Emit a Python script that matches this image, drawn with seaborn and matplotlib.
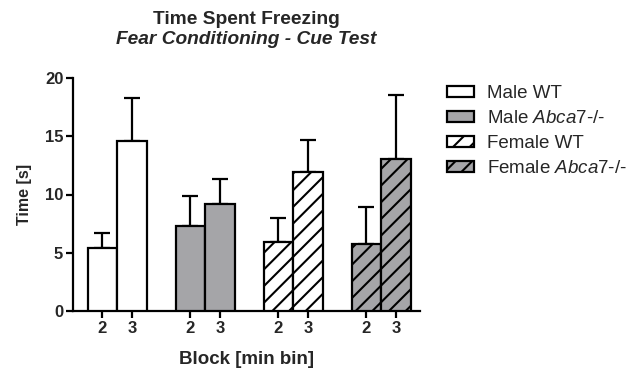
import matplotlib
matplotlib.use("Agg")
import matplotlib.pyplot as plt
import seaborn as sns
import pandas as pd
import numpy as np
from matplotlib.patches import Patch

# ---- data ----
groups = ["Male WT", "Male Abca7-/-", "Female WT", "Female Abca7-/-"]
blocks = ["2", "3"]
means_block2 = [5.4, 7.3, 5.9, 5.75]
means_block3 = [14.55, 9.2, 11.95, 13.05]
sem_block2 = [1.3, 2.6, 2.1, 3.15]
sem_block3 = [3.7, 2.15, 2.7, 5.5]
legend_labels = ["Male WT", "Male $\\mathit{Abca7}$-/-", "Female WT", "Female $\\mathit{Abca7}$-/-"]
fills = ["white", "#a5a5a8", "white", "#a5a5a8"]
hatches = ["", "", "//", "//"]

sns.set_theme(style="ticks")
plt.rcParams["font.family"] = ["Liberation Sans", "DejaVu Sans"]
plt.rcParams["mathtext.fontset"] = "custom"
plt.rcParams["mathtext.rm"] = "Liberation Sans"
plt.rcParams["mathtext.it"] = "Liberation Sans:italic"
plt.rcParams["hatch.linewidth"] = 1.5
plt.rcParams["hatch.color"] = "black"

df = pd.DataFrame({
    "group": groups * 2,
    "block": [blocks[0]] * 4 + [blocks[1]] * 4,
    "time": means_block2 + means_block3,
    "err": sem_block2 + sem_block3,
})

fig = plt.figure(figsize=(6.41, 3.72), dpi=100)
ax = fig.add_axes([73/641, 1-311/372, (420-73)/641, (311-78)/372])

sns.barplot(data=df, x="group", y="time", hue="block", order=groups,
            hue_order=blocks, width=0.67, ax=ax, errorbar=None,
            legend=False, palette=["white", "white"], edgecolor="black",
            linewidth=1.6)

# style bars and collect centers
centers, tops, errs, tick_lbls = [], [], [], []
bars = [p for p in ax.patches]
for bi, b in enumerate(blocks):
    for gi, g in enumerate(groups):
        p = bars[bi * 4 + gi]
        p.set_facecolor(fills[gi])
        p.set_hatch(hatches[gi])
        p.set_edgecolor("black")
        p.set_linewidth(1.6)
        p.set_zorder(3)
        cx = p.get_x() + p.get_width() / 2
        row = df[(df.group == g) & (df.block == b)].iloc[0]
        centers.append(cx)
        tops.append(row.time)
        errs.append(row.err)
        tick_lbls.append(b)

centers = np.array(centers)
tops = np.array(tops)
errs = np.array(errs)
ax.errorbar(centers, tops, yerr=[np.zeros_like(errs), errs], fmt="none",
            ecolor="black", elinewidth=1.6, capsize=5.5, capthick=1.6, zorder=2)

order = np.argsort(centers)
ax.set_xticks(centers[order])
ax.set_xticklabels([tick_lbls[i] for i in order], fontsize=12, fontweight="bold")
ax.set_xlim(-0.5, 3.44)
ax.set_ylim(0, 20)
ax.set_yticks([0, 5, 10, 15, 20])
ax.set_yticklabels(["0", "5", "10", "15", "20"], fontsize=12, fontweight="bold")
ax.tick_params(axis="both", width=1.6, length=5, color="black", pad=2)
ax.set_xlabel("")
ax.set_ylabel("")
for s in ["top", "right"]:
    ax.spines[s].set_visible(False)
for s in ["left", "bottom"]:
    ax.spines[s].set_linewidth(1.6)
    ax.spines[s].set_color("black")

fig.text(246/641, 1-19/372, "Time Spent Freezing", ha="center", va="center",
         fontsize=13.8, fontweight="bold")
fig.text(246/641, 1-40/372, "Fear Conditioning - Cue Test", ha="center", va="center",
         fontsize=13.8, fontweight="bold", fontstyle="italic")
fig.text(246/641, 1-360/372, "Block [min bin]", ha="center", va="center",
         fontsize=13.5, fontweight="bold")
fig.text(25/641, 1-194/372, "Time [s]", ha="center", va="center", rotation=90,
         fontsize=11.5, fontweight="bold")

handles = [Patch(facecolor=fills[i], edgecolor="black", hatch=hatches[i], linewidth=1.6)
           for i in range(4)]
fig.legend(handles, legend_labels, loc="upper left", bbox_to_anchor=(447/641, 1-85/372),
           frameon=False, fontsize=13.5, handlelength=1.45, handleheight=0.55,
           labelspacing=0.43, handletextpad=0.7, borderaxespad=0, borderpad=0)

fig.savefig("out.png", dpi=100, facecolor="white")
